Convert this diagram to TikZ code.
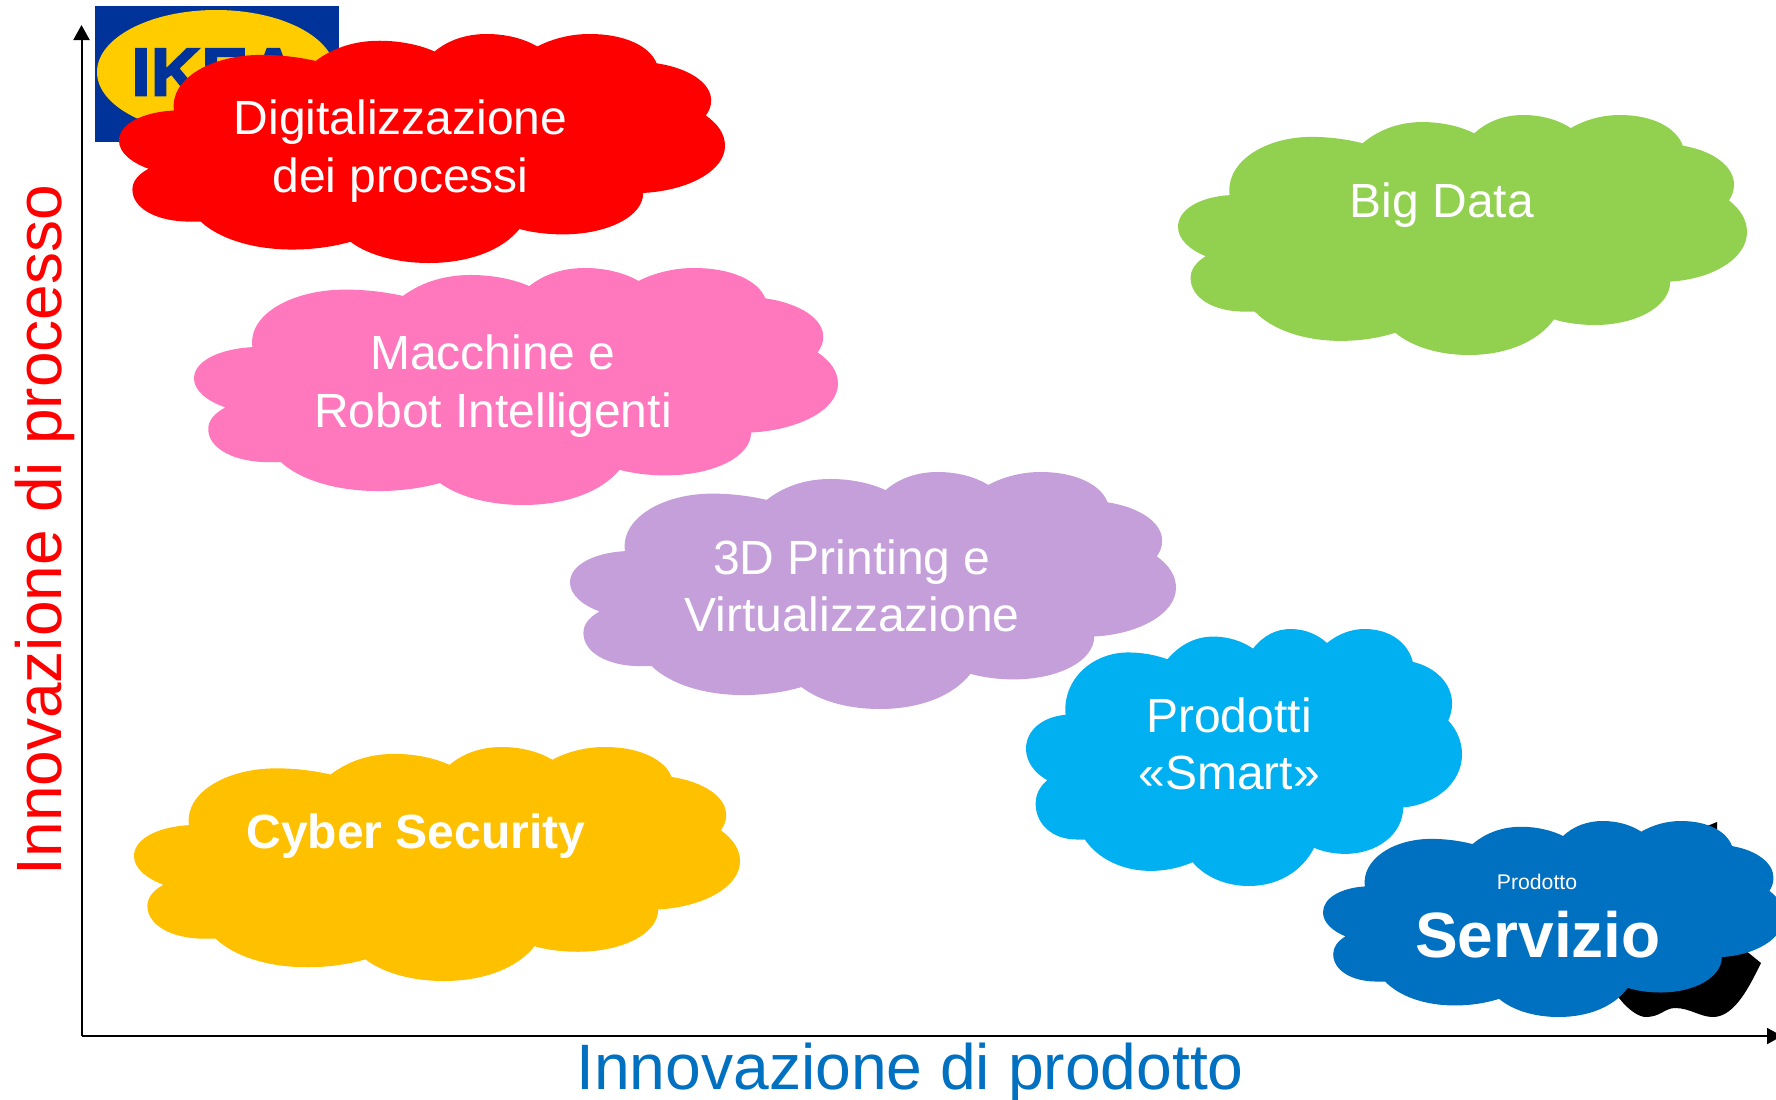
\documentclass[tikz,border=0pt]{standalone}
\usepackage{fontspec}
\setmainfont{Liberation Sans}
\newfontfamily\ikeafont[FakeBold=2.5]{Liberation Sans Bold}
\usetikzlibrary{arrows.meta}
\definecolor{ikeablue}{HTML}{003399}
\definecolor{ikeayellow}{HTML}{FFCC00}
\definecolor{cloudred}{HTML}{FF0000}
\definecolor{cloudpink}{HTML}{FF78BE}
\definecolor{cloudpurple}{HTML}{C59FDA}
\definecolor{cloudgreen}{HTML}{92D050}
\definecolor{cloudcyan}{HTML}{00B0F0}
\definecolor{cloudorange}{HTML}{FFC000}
\definecolor{cloudblue}{HTML}{0070C0}
\tikzset{
  cloudtext/.style={text=white,align=center,inner sep=0pt,font=\fontsize{24}{28.7}\selectfont},
  axisline/.style={black,line width=1pt,-{Triangle[length=7.5pt,width=8pt]}},
}
% #1 x0, #2 y0, #3 width, #4 height, #5 colour
\newcommand{\cloudshape}[5]{%
  \fill[#5,shift={(#1,#2)},xscale=#3/1356,yscale=#4/680,shift={(-132,-103)}]
   (255,330) .. controls (245,235) and (340,165) .. (450,165)
   .. controls (495,165) and (535,172) .. (572,183)
   .. controls (615,140) and (665,123) .. (715,123)
   .. controls (760,123) and (805,135) .. (838,155)
   .. controls (870,120) and (910,103) .. (955,103)
   .. controls (1000,103) and (1040,118) .. (1068,140)
   .. controls (1105,115) and (1145,103) .. (1185,103)
   .. controls (1265,103) and (1320,140) .. (1335,190)
   .. controls (1410,205) and (1457,250) .. (1457,300)
   .. controls (1457,318) and (1452,333) .. (1445,345)
   .. controls (1472,370) and (1488,400) .. (1488,435)
   .. controls (1488,510) and (1405,568) .. (1305,575)
   .. controls (1305,645) and (1225,698) .. (1125,698)
   .. controls (1090,698) and (1055,692) .. (1028,682)
   .. controls (990,745) and (915,783) .. (825,783)
   .. controls (755,783) and (690,760) .. (650,720)
   .. controls (610,735) and (565,743) .. (520,743)
   .. controls (430,743) and (355,710) .. (315,660)
   .. controls (300,660) and (295,660) .. (290,660)
   .. controls (215,660) and (162,620) .. (162,565)
   .. controls (162,540) and (175,520) .. (198,503)
   .. controls (160,485) and (132,455) .. (132,420)
   .. controls (132,370) and (185,335) .. (255,330) -- cycle;%
}
\begin{document}
\begin{tikzpicture}[x=0.5pt,y=-0.5pt]
\useasboundingbox (0,0) rectangle (1776,1099);
\fill[white] (0,0) rectangle (1776,1099);
% IKEA logo
\fill[ikeablue] (95,6) rectangle (339,142);
\fill[ikeayellow] (216,72) ellipse [x radius=119,y radius=62];
\node[text=ikeablue,inner sep=0pt,xscale=1.03,transform shape,font=\fontsize{34}{36}\ikeafont] (ikea) at (215,72) {IKEA};
% Apple logo (behind the blue cloud)
\fill[black] (1685,835) -- (1717,822) -- (1717,850) -- (1685,850) -- cycle;
\fill[black] (1600,950) -- (1745,950) -- (1761,963)
  .. controls (1750,985) and (1735,1017) .. (1713,1017)
  .. controls (1700,1017) and (1690,1008) .. (1675,1008)
  .. controls (1665,1008) and (1660,1017) .. (1646,1017)
  .. controls (1640,1017) and (1630,1012) .. (1619,998) -- cycle;
% clouds
\cloudshape{119}{34}{606}{229}{cloudred}
\cloudshape{194}{268}{644}{237}{cloudpink}
\cloudshape{570}{472}{606}{237}{cloudpurple}
\cloudshape{1178}{115}{569}{240}{cloudgreen}
\cloudshape{1026}{629}{436}{257}{cloudcyan}
\cloudshape{134}{747}{606}{234}{cloudorange}
\cloudshape{1323}{821}{461}{196}{cloudblue}
% texts
\node[cloudtext] (t1) at (400.5,151) {Digitalizzazione\\dei processi};
\node[cloudtext] (t2) at (493,386) {Macchine e\\Robot Intelligenti};
\node[cloudtext] (t3) at (852,586) {3D Printing e\\Virtualizzazione};
\node[cloudtext] (t4) at (1442,205) {Big Data};
\node[cloudtext] (t5) at (1229,744) {Prodotti\\«Smart»};
\node[cloudtext,font=\fontsize{24}{28.7}\bfseries\selectfont] (t6) at (416,836) {Cyber Security};
\node[cloudtext,font=\fontsize{10.6}{12}\selectfont] (t7) at (1537,882) {Prodotto};
\node[cloudtext,font=\fontsize{32}{36}\bfseries\selectfont] (t8) at (1538,935) {Servizio};
% axes
\coordinate (origin) at (81.5,1036);
\coordinate (ytop) at (81.5,25);
\coordinate (xend) at (1782,1036);
\draw[axisline] (origin) -- (ytop);
\draw[axisline] (origin) -- (xend);
\node[text=cloudblue,inner sep=0pt,font=\fontsize{32.1}{36}\selectfont] (xlabel) at (910,1073) {Innovazione di prodotto};
\node[text=cloudred,inner sep=0pt,rotate=90,font=\fontsize{32}{36}\selectfont] (ylabel) at (45,530) {Innovazione di processo};
\end{tikzpicture}
\end{document}
